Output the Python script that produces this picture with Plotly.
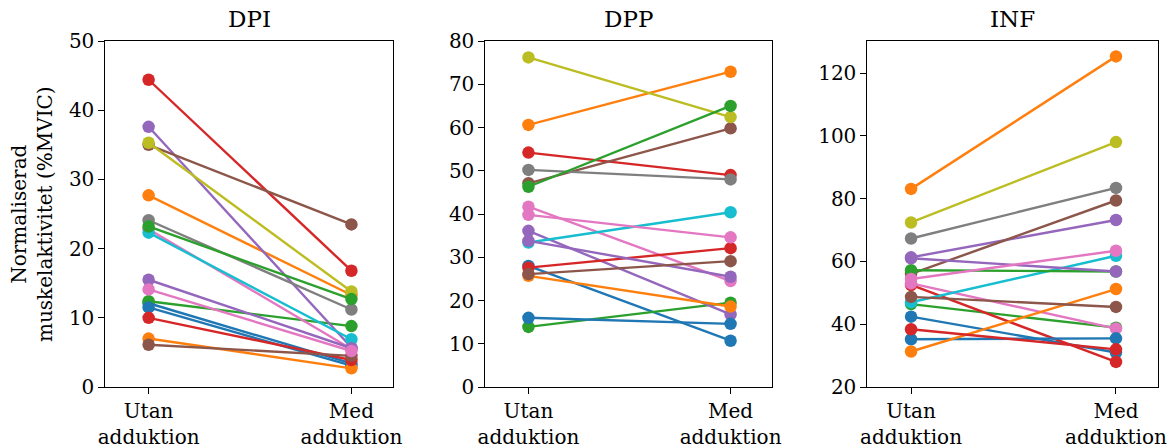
import plotly.graph_objects as go

conditions = ["Utan<br>adduktion", "Med<br>adduktion"]
panels = ["DPI", "DPP", "INF"]

colors = ["#1f77b4", "#ff7f0e", "#2ca02c", "#d62728", "#9467bd",
          "#8c564b", "#e377c2", "#7f7f7f", "#bcbd22", "#17becf"]

# DPI (utan, med) per subject
dpi_utan = [12.1, 27.7, 12.4, 44.4, 37.6, 35.0, 22.8, 24.1, 35.3, 22.3,
            11.5, 7.0, 23.2, 10.0, 15.5, 6.1, 14.1]
dpi_med = [3.4, 13.3, 8.8, 16.8, 5.7, 23.5, 5.5, 11.2, 13.8, 6.9,
           3.1, 2.7, 12.7, 3.9, 5.6, 4.5, 5.2]

# DPP
dpp_utan = [28.0, 60.6, 13.9, 54.2, 36.1, 47.1, 41.7, 50.2, 76.2, 33.4,
            16.0, 25.7, 46.3, 27.6, 33.8, 26.1, 39.8]
dpp_med = [10.7, 72.9, 19.5, 49.0, 16.8, 59.8, 24.5, 48.0, 62.4, 40.4,
           14.6, 18.6, 65.0, 32.1, 25.5, 29.1, 34.6]

# INF
inf_utan = [42.4, 83.1, 46.4, 52.5, 61.3, 56.0, 53.0, 67.3, 72.4, 47.0,
            35.2, 31.3, 57.2, 38.4, 61.0, 48.7, 54.4]
inf_med = [31.0, 125.3, 38.9, 28.0, 73.2, 79.4, 38.6, 83.4, 98.0, 61.8,
           35.5, 51.2, 56.8, 32.0, 56.8, 45.5, 63.4]

data = [(dpi_utan, dpi_med), (dpp_utan, dpp_med), (inf_utan, inf_med)]
yranges = [[0, 50], [0, 80], [20, 130.2]]
ydticks = [10, 10, 20]

W, H = 1176, 448
xdom_px = [(105, 393), (485, 772), (867, 1158)]
ytop, ybot = 41, 387
ydom = [1 - ybot / H, 1 - ytop / H]

FONT = "DejaVu Serif"
FS = 20
fig = go.Figure()

for p, (u, m) in enumerate(data):
    xa = "x" if p == 0 else f"x{p+1}"
    ya = "y" if p == 0 else f"y{p+1}"
    for i in range(len(u)):
        fig.add_trace(go.Scatter(
            x=[0, 1], y=[u[i], m[i]], mode="lines+markers",
            line=dict(color=colors[i % 10], width=2.4),
            marker=dict(color=colors[i % 10], size=12.5),
            xaxis=xa, yaxis=ya, showlegend=False, hoverinfo="y"))

layout = dict(
    width=W, height=H, margin=dict(l=0, r=0, t=0, b=0, pad=0),
    paper_bgcolor="white", plot_bgcolor="white",
    font=dict(family=FONT, size=FS, color="black"),
    showlegend=False,
)
annotations = []
for p in range(3):
    k = "" if p == 0 else str(p + 1)
    x0, x1 = xdom_px[p]
    layout["xaxis" + k] = dict(
        domain=[x0 / W, x1 / W], range=[-0.215, 1.205],
        tickvals=[0, 1], ticktext=conditions, automargin=False,
        showline=True, mirror=True, linecolor="black", linewidth=1.3,
        ticks="outside", ticklen=5.5, tickwidth=1.3, tickcolor="black",
        showgrid=False, zeroline=False, anchor="y" + k,
        tickfont=dict(family=FONT, size=FS, color="black"),
    )
    layout["yaxis" + k] = dict(
        domain=ydom, range=yranges[p], dtick=ydticks[p], tick0=0,
        automargin=False,
        showline=True, mirror=True, linecolor="black", linewidth=1.3,
        ticks="outside", ticklen=5.5, tickwidth=1.3, tickcolor="black",
        showgrid=False, zeroline=False, anchor="x" + k,
        tickfont=dict(family=FONT, size=FS, color="black"),
    )
    annotations.append(dict(
        text=panels[p], x=(x0 + x1) / 2 / W, y=1 - (ytop - 7) / H,
        xref="paper", yref="paper", xanchor="center", yanchor="bottom",
        showarrow=False, font=dict(family=FONT, size=23, color="black")))

annotations.append(dict(
    text="Normaliserad<br>muskelaktivitet (%MVIC)",
    x=32 / W, y=1 - (ytop + ybot) / 2 / H, xref="paper", yref="paper",
    xanchor="center", yanchor="middle", textangle=-90, showarrow=False,
    font=dict(family=FONT, size=FS, color="black")))
layout["annotations"] = annotations

fig.update_layout(**layout)
fig.write_html(
    "out.html",
    config={"displayModeBar": False},
    post_script="document.body.style.margin='0';document.body.style.overflow='hidden';",
)
